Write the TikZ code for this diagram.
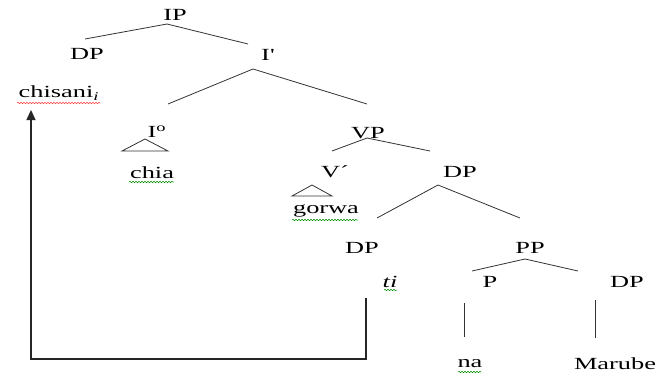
\documentclass[tikz,border=0pt]{standalone}
\usepackage{fontspec}
\setmainfont{Liberation Serif}
\newfontfamily\rawserif{Liberation Serif}
\usepackage{graphicx}
\usetikzlibrary{arrows.meta,decorations.pathmorphing}
\newcommand\wide[1]{\scalebox{1.55}[1]{#1}}
\begin{document}
\begin{tikzpicture}[x=1pt,y=-1pt,
  lbl/.style={font=\fontsize{17}{20}\selectfont, inner sep=0pt, text=black},
  branch/.style={draw=black!80, line width=0.8pt},
  trace/.style={draw=black!85, line width=1.4pt},
  squig/.style={decorate, decoration={snake, amplitude=0.8pt, segment length=3pt}, line width=0.5pt},
]
\useasboundingbox (0,0) rectangle (660,375);
\fill[white] (0,0) rectangle (660,375);
% labels
\node[lbl] (ip) at (175,15) {\wide{IP}};
\node[lbl] (dp1) at (87,54) {\wide{DP}};
\node[lbl] (ibar) at (268,55) {\wide{{\rawserif I'}}};
\node[lbl] (chisani) at (59,93) {\wide{chisani\textsubscript{\textit{i}}}};
\node[lbl] (io) at (157,132) {\wide{I\textsuperscript{o}}};
\node[lbl] (chia) at (152,173) {\wide{chia}};
\node[lbl] (vp) at (368,133) {\wide{VP}};
\node[lbl] (vbar) at (335,172) {\wide{V´}};
\node[lbl] (gorwa) at (326,211) {\wide{gorwa}};
\node[lbl] (dp2) at (460,172) {\wide{DP}};
\node[lbl] (dp3) at (362,248) {\wide{DP}};
\node[lbl] (pp) at (530,248) {\wide{PP}};
\node[lbl] (ti) at (390,282) {\wide{\textit{ti}}};
\node[lbl] (p) at (490,282) {\wide{P}};
\node[lbl] (dp4) at (627,282) {\wide{DP}};
\node[lbl] (na) at (470,364) {\wide{na}};
\node[lbl] (marube) at (615,364) {\wide{Marube}};
% branch end points
\coordinate (ipA) at (167,24);
\coordinate (dp1T) at (85,39);
\coordinate (ibarT) at (248,44);
\coordinate (ibarA) at (253,69);
\coordinate (ioT) at (168,104);
\coordinate (vpT) at (367,104);
\coordinate (vpA) at (367,138);
\coordinate (vbarT) at (332,151);
\coordinate (dp2T) at (430,151);
\coordinate (dp2A) at (438,185);
\coordinate (dp3T) at (377,218);
\coordinate (ppT) at (520,218);
\coordinate (ppA) at (525,259);
\coordinate (pT) at (472,271);
\coordinate (dp4T) at (578,271);
\coordinate (pB) at (464,303);
\coordinate (naT) at (464,337);
\coordinate (dp4B) at (595,300);
\coordinate (marubeT) at (595,338);
% branches
\draw[branch] (ipA) -- (dp1T);
\draw[branch] (ipA) -- (ibarT);
\draw[branch] (ibarA) -- (ioT);
\draw[branch] (ibarA) -- (vpT);
\draw[branch] (vpA) -- (vbarT);
\draw[branch] (vpA) -- (dp2T);
\draw[branch] (dp2A) -- (dp3T);
\draw[branch] (dp2A) -- (ppT);
\draw[branch] (ppA) -- (pT);
\draw[branch] (ppA) -- (dp4T);
\draw[branch] (pB) -- (naT);
\draw[branch] (dp4B) -- (marubeT);
% triangles
\coordinate (ioTri) at (145,139);
\coordinate (vTri) at (312,185);
\draw[branch] (ioTri) -- (122,151) -- (168,151) -- cycle;
\draw[branch] (vTri) -- (292,196) -- (332,196) -- cycle;
% movement trace
\coordinate (tiB) at (366,298);
\coordinate (c1) at (366,359);
\coordinate (c2) at (31,359);
\coordinate (chiB) at (31,110);
\draw[trace, -{Triangle[length=10pt,width=9pt]}] (tiB) -- (c1) -- (c2) -- (chiB);
% spell-check squiggles
\draw[squig, red!75] (17,103) -- (100,103);
\draw[squig, green!55!black] (129,182) -- (174,182);
\draw[squig, green!55!black] (292,220) -- (358,220);
\draw[squig, green!55!black] (384,290) -- (397,290);
\draw[squig, green!55!black] (458,372) -- (481,372);
\end{tikzpicture}
\end{document}
